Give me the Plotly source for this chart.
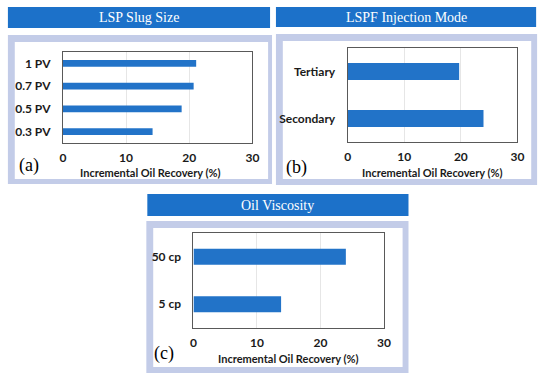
import plotly.graph_objects as go

W, H = 550, 378

# ---- data ----
slug_labels = ["0.3 PV", "0.5 PV", "0.7 PV", "1 PV"]
slug_values = [14.2, 18.8, 20.7, 21.1]

mode_labels = ["Secondary", "Tertiary"]
mode_values = [24.0, 19.7]

visc_labels = ["5 cp", "50 cp"]
visc_values = [13.8, 24.0]

panel_titles = ["LSP Slug Size", "LSPF Injection Mode", "Oil Viscosity"]
panel_letters = ["(a)", "(b)", "(c)"]
x_title = "Incremental Oil Recovery (%)"
x_ticks = [0, 10, 20, 30]

BAR = "#2273C8"
TITLE_BLUE = "#1C71C9"
LAV = "#C3CCE8"
AXIS_FONT = "Lato"
SERIF = "Liberation Serif"
TXT = "#1a1a1a"


def px(x):
    return x / W


def py(y):
    return 1 - y / H


fig = go.Figure()

# panel geometry (pixels)
panels = [
    dict(plot=(61, 254, 52, 143), frame=(5, 274, 35, 184), inner=(12, 270, 42, 179),
         tbox=(5, 272, 7, 28), xt=(150, 172), let=(26, 166), bw=0.3),
    dict(plot=(351, 524, 48, 142), frame=(278, 544, 34, 185), inner=(285, 538, 41, 179),
         tbox=(278, 543, 7, 27), xt=(437, 172), let=(299, 167), bw=0.36),
    dict(plot=(194, 388, 233, 328), frame=(146, 413, 221, 373), inner=(153, 407, 228, 367),
         tbox=(147, 413, 194, 216), xt=(291, 358), let=(164, 353), bw=0.34),
]
data = [(slug_labels, slug_values), (mode_labels, mode_values), (visc_labels, visc_values)]

shapes = []
annotations = []
for i, (p, (labs, vals)) in enumerate(zip(panels, data)):
    ax = "" if i == 0 else str(i + 1)
    fig.add_trace(go.Bar(
        x=vals, y=labs, orientation="h", marker=dict(color=BAR, line=dict(width=0)),
        width=p["bw"], xaxis="x" + ax, yaxis="y" + ax, showlegend=False,
        hovertemplate="%{y}: %{x}<extra></extra>",
    ))
    x0, x1, y0, y1 = p["plot"]
    fig.update_layout(**{
        "xaxis" + ax: dict(
            domain=[px(x0), px(x1)], range=[0, 30], tickvals=x_ticks, anchor="y" + ax,
            showgrid=True, gridcolor="#E6E6E6", gridwidth=1, zeroline=False,
            showline=True, linecolor="#595959", linewidth=1, mirror=True,
            ticks="", ticklabelstandoff=4,
            tickfont=dict(family=AXIS_FONT, size=12, color=TXT, weight="bold"),
        ),
        "yaxis" + ax: dict(
            domain=[py(y1), py(y0)], anchor="x" + ax, type="category",
            categoryorder="array", categoryarray=labs,
            showgrid=False, showline=True, linecolor="#595959", linewidth=1, mirror=True,
            ticks="", ticklabelstandoff=9,
            tickfont=dict(family=AXIS_FONT, size=12, color=TXT, weight="bold"),
        ),
    })
    fx0, fx1, fy0, fy1 = p["frame"]
    shapes.append(dict(type="rect", xref="paper", yref="paper", layer="below",
                       x0=px(fx0), x1=px(fx1), y0=py(fy1), y1=py(fy0),
                       fillcolor=LAV, line=dict(width=0)))
    ix0, ix1, iy0, iy1 = p["inner"]
    shapes.append(dict(type="rect", xref="paper", yref="paper", layer="below",
                       x0=px(ix0), x1=px(ix1), y0=py(iy1), y1=py(iy0),
                       fillcolor="white", line=dict(width=0)))
    tx0, tx1, ty0, ty1 = p["tbox"]
    shapes.append(dict(type="rect", xref="paper", yref="paper", layer="below",
                       x0=px(tx0), x1=px(tx1), y0=py(ty1), y1=py(ty0),
                       fillcolor=TITLE_BLUE, line=dict(width=0)))
    annotations.append(dict(text=panel_titles[i], xref="paper", yref="paper",
                            x=px((tx0 + tx1) / 2), y=py((ty0 + ty1) / 2),
                            xanchor="center", yanchor="middle", showarrow=False,
                            font=dict(family=SERIF, size=14, color="white")))
    annotations.append(dict(text=x_title, xref="paper", yref="paper",
                            x=px(p["xt"][0]), y=py(p["xt"][1]),
                            xanchor="center", yanchor="middle", showarrow=False,
                            font=dict(family=AXIS_FONT, size=11, color=TXT, weight="bold")))
    annotations.append(dict(text=panel_letters[i], xref="paper", yref="paper",
                            x=px(p["let"][0]), y=py(p["let"][1]),
                            xanchor="center", yanchor="middle", showarrow=False,
                            font=dict(family=SERIF, size=18, color="black")))

fig.update_layout(
    width=W, height=H, margin=dict(l=0, r=0, t=0, b=0),
    paper_bgcolor="white", plot_bgcolor="white",
    shapes=shapes, annotations=annotations, bargap=0.6,
)

fig.write_html("out.html", config={"displayModeBar": False},
               post_script="document.body.style.margin='0px';")
